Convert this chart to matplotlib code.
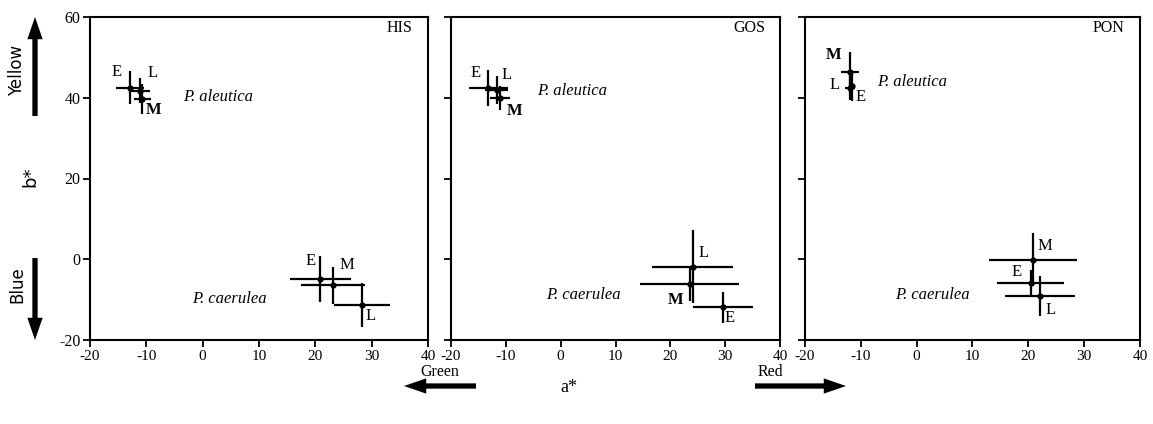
import matplotlib
matplotlib.use("Agg")
import matplotlib.pyplot as plt
from matplotlib.patches import FancyArrowPatch

# ---- data ----
panels = ["HIS", "GOS", "PON"]
groups = ["E", "M", "L"]

# aleutica / caerulea: a*, b*, a* err, b* err  (order E, M, L)
his_ale_a = [-12.9, -10.7, -11.1]
his_ale_b = [42.5, 39.6, 41.7]
his_ale_ae = [2.4, 1.5, 1.8]
his_ale_be = [4.1, 3.7, 3.1]
his_cae_a = [20.9, 23.2, 28.3]
his_cae_b = [-4.9, -6.5, -11.3]
his_cae_ae = [5.4, 5.7, 4.9]
his_cae_be = [5.8, 4.7, 5.4]

gos_ale_a = [-13.2, -11.1, -11.7]
gos_ale_b = [42.4, 39.9, 41.9]
gos_ale_ae = [3.6, 1.8, 2.1]
gos_ale_be = [4.5, 2.9, 3.5]
gos_cae_a = [29.6, 23.5, 24.1]
gos_cae_b = [-11.9, -6.2, -1.8]
gos_cae_ae = [5.5, 9.0, 7.4]
gos_cae_be = [3.9, 4.1, 9.1]

pon_ale_a = [-11.6, -11.9, -12.0]
pon_ale_b = [42.8, 46.3, 42.4]
pon_ale_ae = [0.3, 1.6, 0.9]
pon_ale_be = [3.5, 5.0, 2.9]
pon_cae_a = [20.4, 20.9, 22.1]
pon_cae_b = [-5.8, -0.1, -9.1]
pon_cae_ae = [6.0, 7.9, 6.3]
pon_cae_be = [3.2, 6.6, 5.0]

xticks = [-20, -10, 0, 10, 20, 30, 40]
yticks = [-20, 0, 20, 40, 60]

serif = "Liberation Serif"
sans = "DejaVu Sans"

data = {
    "HIS": [(his_ale_a, his_ale_b, his_ale_ae, his_ale_be),
            (his_cae_a, his_cae_b, his_cae_ae, his_cae_be)],
    "GOS": [(gos_ale_a, gos_ale_b, gos_ale_ae, gos_ale_be),
            (gos_cae_a, gos_cae_b, gos_cae_ae, gos_cae_be)],
    "PON": [(pon_ale_a, pon_ale_b, pon_ale_ae, pon_ale_be),
            (pon_cae_a, pon_cae_b, pon_cae_ae, pon_cae_be)],
}

# label offsets in pixels for E, M, L
offsets = {
    "HIS": [[(-13, 16), (11, -11), (12, 18)],
            [(-10, 18), (14, 20), (8, -11)]],
    "GOS": [[(-13, 15), (15, -13), (10, 15)],
            [(7, -11), (-14, -16), (11, 14)]],
    "PON": [[(9, -11), (-17, 17), (-15, 3)],
            [(-14, 11), (12, 14), (11, -14)]],
}
bold_m = {"HIS": [True, False], "GOS": [True, True], "PON": [True, False]}
species_pos = {
    "HIS": [(-3.5, 40.2), (-1.9, -9.8)],
    "GOS": [(-4.3, 41.7), (-2.7, -8.8)],
    "PON": [(-7.1, 43.9), (-3.9, -8.8)],
}
species = ["P. aleutica", "P. caerulea"]

W, H = 1153, 424
fig = plt.figure(figsize=(W / 100, H / 100), dpi=100)

boxes = [(90, 428), (451, 780), (805, 1140)]
top, bottom = 17, 340

for i, (name, (l, r)) in enumerate(zip(panels, boxes)):
    ax = fig.add_axes([l / W, 1 - bottom / H, (r - l) / W, (bottom - top) / H])
    ax.set_xlim(-20, 40)
    ax.set_ylim(-20, 60)
    ax.set_xticks(xticks)
    ax.set_yticks(yticks)
    ax.set_xticklabels([str(t) for t in xticks], fontfamily=serif, fontsize=11)
    if i == 0:
        ax.set_yticklabels([str(t) for t in yticks], fontfamily=serif, fontsize=11.5)
    else:
        ax.set_yticklabels([])
    ax.tick_params(direction="out", length=5, width=1.3, pad=2)
    for s in ax.spines.values():
        s.set_linewidth(1.5)
    for k, (a, b, ae, be) in enumerate(data[name]):
        ax.errorbar(a, b, xerr=ae, yerr=be, fmt="o", color="black",
                    markersize=3.5, elinewidth=1.6, capsize=0)
        for j, g in enumerate(groups):
            bold = (g == "M" and bold_m[name][k])
            ax.annotate(g, (a[j], b[j]), xytext=offsets[name][k][j],
                        textcoords="offset pixels", ha="center", va="center",
                        fontfamily=serif, fontsize=12,
                        fontweight="bold" if bold else "normal")
        sx, sy = species_pos[name][k]
        ax.text(sx, sy, species[k], fontfamily=serif, fontstyle="italic",
                fontsize=12, ha="left", va="center")
    ax.text(0.955, 0.966, name, transform=ax.transAxes, ha="right", va="center",
            fontfamily=serif, fontsize=11.5)


def fx(px):
    return px / W


def fy(py):
    return 1 - py / H


astyle = "simple,head_length=1.6,head_width=1.1,tail_width=0.38"
for (x0, y0), (x1, y1) in [((35, 116), (35, 17)), ((35, 258), (35, 340)),
                           ((476, 386), (404, 386)), ((755, 386), (846, 386))]:
    fig.add_artist(FancyArrowPatch((fx(x0), fy(y0)), (fx(x1), fy(y1)),
                                   transform=fig.transFigure, arrowstyle=astyle,
                                   mutation_scale=10, color="black", lw=0,
                                   shrinkA=0, shrinkB=0))

fig.text(fx(17), fy(70), "Yellow", rotation=90, ha="center", va="center",
         fontfamily=sans, fontsize=12)
fig.text(fx(17), fy(285), "Blue", rotation=90, ha="center", va="center",
         fontfamily=sans, fontsize=12)
fig.text(fx(30), fy(177), "b*", rotation=90, ha="center", va="center",
         fontfamily=sans, fontsize=13)
fig.text(fx(440), fy(372), "Green", ha="center", va="center",
         fontfamily=serif, fontsize=11.5)
fig.text(fx(770), fy(372), "Red", ha="center", va="center",
         fontfamily=serif, fontsize=11.5)
fig.text(fx(569), fy(387), "a*", ha="center", va="center",
         fontfamily=serif, fontsize=13)

fig.savefig("out.png", dpi=100)
